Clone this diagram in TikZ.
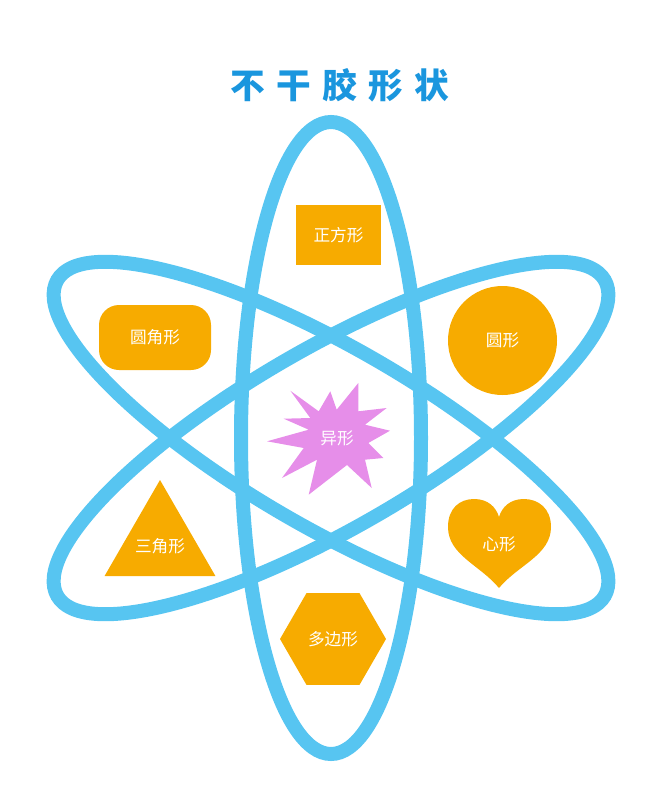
\documentclass[tikz,border=0pt]{standalone}
\usepackage{fontspec}
\newfontfamily\cjk{Noto Sans CJK SC}
\usetikzlibrary{shapes.geometric}
\definecolor{ringblue}{HTML}{57C5F1}
\definecolor{titleblue}{HTML}{1A96DE}
\definecolor{stickerorange}{HTML}{F7AB00}
\definecolor{burstpink}{HTML}{E68EE9}
\tikzset{
  ring/.style={draw=ringblue, line width=10.5pt},
  stickertext/.style={text=white, inner sep=0pt, font=\cjk\fontsize{12.5}{15}\selectfont},
  sticker/.style={fill=stickerorange, stickertext},
}
\begin{document}
\begin{tikzpicture}[x=0.75pt, y=-0.75pt]
     \useasboundingbox (0,0) rectangle (665,800);
     \coordinate (ctr) at (331,438);
     % rings
     \draw[ring] (ctr) ellipse[x radius=90, y radius=316];
     \draw[ring, rotate around={60:(ctr)}] (ctr) ellipse[x radius=90, y radius=316];
     \draw[ring, rotate around={-60:(ctr)}] (ctr) ellipse[x radius=90, y radius=316];
     % title
     \node[text=titleblue, font=\cjk\bfseries\fontsize{26}{30}\selectfont] (title) at (340,85)
       {不\hskip8.5pt 干\hskip8.5pt 胶\hskip8.5pt 形\hskip8.5pt 状};
     % stickers
     \node[sticker, rectangle, minimum width=63.75pt, minimum height=45pt] (square) at (338.5,235) {正方形};
     \node[sticker, rectangle, rounded corners=15pt, minimum width=84pt, minimum height=48.75pt] (roundrect) at (155,337.5) {圆角形};
     \node[sticker, circle, minimum size=81.75pt] (round) at (502.5,340.5) {圆形};
     \node[sticker, regular polygon, regular polygon sides=3, minimum size=96pt,
       label={[stickertext, yshift=-1.5pt]center:三角形}] (tri) at (160,544) {};
     \node[sticker, regular polygon, regular polygon sides=6, minimum size=79.5pt,
       label={[stickertext]center:多边形}] (hexa) at (333,639) {};
     \path[fill=stickerorange] (499,588) .. controls (480,565) and (448,555) .. (448,527)
       .. controls (448,508) and (460,499) .. (474,499)
       .. controls (488,499) and (496,507) .. (499,517)
       .. controls (502,507) and (510,499) .. (524,499)
       .. controls (538,499) and (551,508) .. (551,527)
       .. controls (551,555) and (518,565) .. (499,588) -- cycle;
     \node[stickertext] (heart) at (499,544) {心形};
     % burst
     \path[fill=burstpink] (290.3,390.7) -- (318.7,411.3) -- (330.3,391.3) -- (336.7,409.7)
       -- (358.3,383) -- (358.3,411.3) -- (386.7,408) -- (365,424.7) -- (390,430.7)
       -- (368.3,443) -- (383.3,458) -- (365,459.7) -- (371.7,488) -- (347,465)
       -- (308.7,494.7) -- (317,459.7) -- (282,478) -- (303.7,448) -- (267,441.3)
       -- (308.7,429.7) -- (283.7,418.7) -- (310.3,418) -- cycle;
     \node[stickertext] (burst) at (337,438) {异形};
\end{tikzpicture}
\end{document}
